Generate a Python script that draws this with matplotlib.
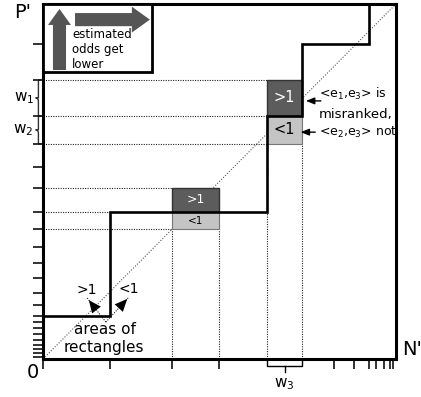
import numpy as np
import matplotlib
matplotlib.use("Agg")
import matplotlib.pyplot as plt
from matplotlib.patches import Rectangle, FancyArrow, PathPatch
from matplotlib.path import Path

# ROC staircase (N' on x, P' on y), unit square
roc_x = [0.0, 0.19, 0.635, 0.734, 0.924]
roc_y = [0.121, 0.414, 0.685, 0.887, 1.0]

# tick marks on the P' and N' axes
p_ticks = [0.887, 0.786, 0.685, 0.606, 0.541, 0.482, 0.414, 0.366, 0.315, 0.270,
           0.228, 0.186, 0.152, 0.121, 0.104, 0.087, 0.070, 0.054, 0.039, 0.028, 0.017, 0.006]
n_ticks = [0.0, 0.19, 0.365, 0.499, 0.824, 0.881, 0.924, 0.943, 0.966, 0.983, 0.992]

# tied-score rectangles: (x0, x1, y_low, y_mid, y_high)
small_rect = (0.365, 0.499, 0.366, 0.414, 0.482)
big_rect = (0.635, 0.734, 0.606, 0.685, 0.786)

DARK = "#5c5c5c"; LIGHT = "#c4c4c4"; ARROW = "#555555"
DOT = dict(color="#222222", lw=0.8, ls=(0, (1, 1.2)))
plt.rcParams["mathtext.fontset"] = "dejavusans"

fig = plt.figure(figsize=(4.21, 3.97), dpi=100)
ax = fig.add_axes([43/421, 38/397, 353/421, 355/397])
ax.set_xlim(0, 1); ax.set_ylim(0, 1)
for s in ax.spines.values():
    s.set_linewidth(2.2)
ax.set_xticks(n_ticks); ax.set_yticks(p_ticks)
ax.set_xticklabels([]); ax.set_yticklabels([])
ax.tick_params(direction="out", length=7, width=1.2, color="#111111")

# diagonal
ax.plot([0, 1], [0, 1], color="#555555", lw=0.8, ls=(0, (1, 1.5)))

# helper dotted lines
for (x0, x1, yl, ym, yh) in [small_rect, big_rect]:
    for yy in (yl, yh):
        ax.plot([0, x0], [yy, yy], **DOT)
    for xx in (x0, x1):
        ax.plot([xx, xx], [0, yl], **DOT)
ax.plot([0, roc_x[1]], [roc_y[1], roc_y[1]], **DOT)
ax.plot([0, big_rect[0]], [big_rect[3], big_rect[3]], **DOT)

# rectangles
def rects(r, fs_hi, fs_lo):
    x0, x1, yl, ym, yh = r
    ax.add_patch(Rectangle((x0, ym), x1-x0, yh-ym, fc=DARK, ec="#333333", lw=1, zorder=3))
    ax.add_patch(Rectangle((x0, yl), x1-x0, ym-yl, fc=LIGHT, ec="#777777", lw=0.8, zorder=3))
    ax.text((x0+x1)/2, (ym+yh)/2, ">1", color="white", fontsize=fs_hi, ha="center", va="center", zorder=4)
    ax.text((x0+x1)/2, (yl+ym)/2, "<1", color="black", fontsize=fs_lo, ha="center", va="center", zorder=4)
rects(small_rect, 9, 7.5)
rects(big_rect, 10.5, 10.5)

# staircase
sx, sy = [roc_x[0]], [roc_y[0]]
for i in range(1, len(roc_x)):
    sx += [roc_x[i], roc_x[i]]; sy += [roc_y[i-1], roc_y[i]]
ax.plot(sx, sy, color="black", lw=1.9, zorder=5, solid_joinstyle="miter")

# inset legend box
ax.add_patch(Rectangle((0, 0.808), 0.309, 0.192, fc="white", ec="black", lw=2, zorder=6))
ax.add_patch(FancyArrow(0.0467, 0.814, 0, 0.172, width=0.037, head_width=0.065, head_length=0.045,
                        length_includes_head=True, color=ARROW, lw=0, zorder=7))
ax.add_patch(FancyArrow(0.0907, 0.956, 0.212, 0, width=0.037, head_width=0.073, head_length=0.051,
                        length_includes_head=True, color=ARROW, lw=0, zorder=7))
ax.text(0.082, 0.873, "estimated\nodds get\nlower", fontsize=8.5, ha="left", va="center",
        linespacing=1.2, zorder=8)

# right annotations
for txt, yy, fs in [("<e$_1$,e$_3$> is", 0.746, 9), ("misranked,", 0.690, 9.5), ("<e$_2$,e$_3$> not", 0.639, 9)]:
    ax.text(0.782, yy, txt, fontsize=fs, ha="left", va="center", zorder=8)
ax.annotate("", xy=(0.737, 0.727), xytext=(0.795, 0.727),
            arrowprops=dict(arrowstyle="-|>,head_length=0.5,head_width=0.2", color="black", lw=1), zorder=8)
ax.annotate("", xy=(0.722, 0.639), xytext=(0.779, 0.639),
            arrowprops=dict(arrowstyle="-|>,head_length=0.5,head_width=0.2", color="black", lw=1), zorder=8)

# "areas of rectangles" arrows
base = (0.178, 0.104)
for tip, lab in [((0.125, 0.172), ">1"), ((0.244, 0.175), "<1")]:
    ax.plot([base[0], tip[0]], [base[1], tip[1]], color="#222222", lw=0.8, ls=(0, (1, 1.2)))
    mid = (base[0] + 0.5*(tip[0]-base[0]), base[1] + 0.5*(tip[1]-base[1]))
    ax.annotate("", xy=tip, xytext=mid,
                arrowprops=dict(arrowstyle="-|>,head_length=0.9,head_width=0.4", color="black", lw=0))
    ax.text(tip[0], tip[1] + 0.022, lab, fontsize=10, ha="center", va="center")
ax.text(0.175, 0.082, "areas of", fontsize=11, ha="center", va="center")
ax.text(0.173, 0.031, "rectangles", fontsize=11, ha="center", va="center")

# axis labels
ax.text(-0.057, 0.977, "P'", fontsize=14, ha="center", va="center", clip_on=False)
ax.text(-0.028, -0.037, "0", fontsize=14, ha="center", va="center", clip_on=False)
ax.text(1.045, 0.028, "N'", fontsize=14, ha="center", va="center", clip_on=False)

# braces w1, w2
def brace(y0, y1, xt=-0.021, xe=-0.005):
    ym = (y0 + y1) / 2; xm = (xt + xe) / 2
    v = [(xe, y1), (xm, y1), (xm, y1), (xm, (y1+ym)/2 + 0.005), (xm, ym + 0.01), (xm, ym), (xt, ym),
         (xm, ym), (xm, ym - 0.01), (xm, (y0+ym)/2 - 0.005), (xm, y0), (xm, y0), (xe, y0)]
    c = [Path.MOVETO, Path.CURVE3, Path.CURVE3, Path.LINETO, Path.CURVE3, Path.CURVE3, Path.LINETO,
         Path.CURVE3, Path.CURVE3, Path.LINETO, Path.CURVE3, Path.CURVE3, Path.LINETO]
    ax.add_patch(PathPatch(Path(v, c), fc="none", ec="#333333", lw=1, clip_on=False))
brace(big_rect[3], big_rect[4])
brace(big_rect[2], big_rect[3])
ax.text(-0.054, 0.735, "w$_1$", fontsize=11, ha="center", va="center", clip_on=False)
ax.text(-0.057, 0.645, "w$_2$", fontsize=11, ha="center", va="center", clip_on=False)

# w3 bracket
bx0, bx1 = big_rect[0], big_rect[1]
ax.plot([bx0, bx0, bx1, bx1], [0, -0.02, -0.02, 0], color="black", lw=1, clip_on=False)
ax.plot([(bx0+bx1)/2]*2, [-0.02, -0.037], color="black", lw=1, clip_on=False)
ax.text((bx0+bx1)/2, -0.07, "w$_3$", fontsize=11, ha="center", va="center", clip_on=False)

fig.savefig("out.png", dpi=100)
